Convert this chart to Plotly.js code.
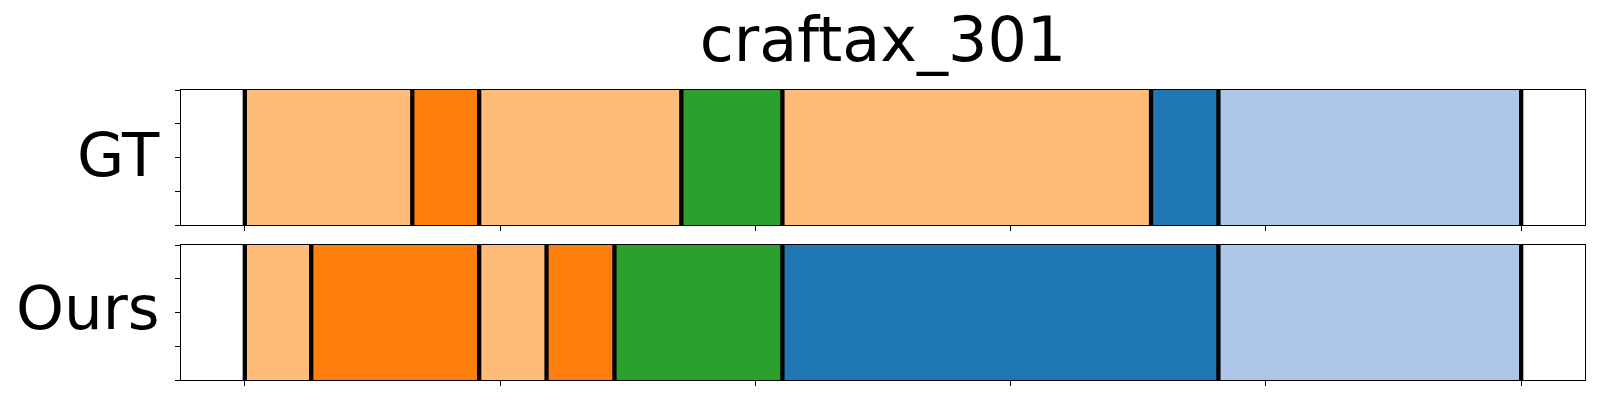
<!DOCTYPE html>
<html>
<head>
<meta charset="utf-8">
<script src="https://cdn.plot.ly/plotly-3.0.1.min.js"></script>
<style>html,body{margin:0;padding:0;background:#fff;}#chart{width:1600px;height:400px;}</style>
</head>
<body>
<div id="chart"></div>
<script>
// ---- data ----
const chartTitle = 'craftax_301';
const rowLabels = ['GT', 'Ours'];
// segment boundaries (frames) for each row
const gtBounds = [0, 32.8, 45.9, 85.5, 105.3, 177.5, 190.7, 250];
const oursBounds = [0, 13.0, 45.9, 59.1, 72.4, 105.3, 190.7, 250];
// class index of each segment
const gtClasses = [3, 2, 3, 4, 3, 0, 1];
const oursClasses = [3, 2, 3, 2, 4, 0, 1];
// class colours (tab20)
const classColors = ['#1f77b4', '#aec7e8', '#ff7f0e', '#ffbb78', '#2ca02c'];
const xTicks = [0, 50, 100, 150, 200, 250];
const yTicks = [0, 0.25, 0.5, 0.75, 1];

// ---- build ----
const rows = [
  {bounds: gtBounds, classes: gtClasses, xa: 'x', ya: 'y'},
  {bounds: oursBounds, classes: oursClasses, xa: 'x2', ya: 'y2'}
];
const traces = [];
const shapes = [];
rows.forEach(r => {
  for (let i = 0; i < r.classes.length; i++) {
    traces.push({
      type: 'bar', orientation: 'h',
      y: [0.5], x: [r.bounds[i + 1] - r.bounds[i]], base: [r.bounds[i]],
      width: 1,
      marker: {color: classColors[r.classes[i]], line: {width: 0}},
      xaxis: r.xa, yaxis: r.ya, showlegend: false, hoverinfo: 'skip'
    });
  }
  r.bounds.forEach(b => {
    shapes.push({type: 'line', xref: r.xa, yref: r.ya, x0: b, x1: b, y0: 0, y1: 1,
      line: {color: 'black', width: 4.3}, layer: 'above'});
  });
});

const xDom = [181 / 1600, 1585 / 1600];
const axX = (anchor) => ({
  domain: xDom, range: [-12.5, 262.5], anchor: anchor,
  tickvals: xTicks, ticks: 'outside', ticklen: 5, tickwidth: 1, tickcolor: 'black',
  showticklabels: false, showgrid: false, zeroline: false,
  showline: true, linecolor: 'black', linewidth: 1, mirror: true, fixedrange: true
});
const axY = (anchor, dom) => ({
  domain: dom, range: [0, 1], anchor: anchor,
  tickvals: yTicks, ticks: 'outside', ticklen: 5, tickwidth: 1, tickcolor: 'black',
  showticklabels: false, showgrid: false, zeroline: false,
  showline: true, linecolor: 'black', linewidth: 1, mirror: true, fixedrange: true
});
const topDom = [175 / 400, 310 / 400];
const botDom = [20 / 400, 155 / 400];

const font = 'DejaVu Sans, sans-serif';
const layout = {
  width: 1600, height: 400,
  margin: {l: 0, r: 0, t: 0, b: 0},
  paper_bgcolor: 'white', plot_bgcolor: 'white',
  barmode: 'overlay', bargap: 0,
  title: {text: chartTitle, font: {family: font, size: 62, color: 'black'},
    x: 883 / 1600, xanchor: 'center', xref: 'paper', y: 1 - 39 / 400, yanchor: 'middle', yref: 'paper'},
  xaxis: axX('y'), yaxis: axY('x', topDom),
  xaxis2: axX('y2'), yaxis2: axY('x2', botDom),
  shapes: shapes,
  annotations: [
    {text: rowLabels[0], xref: 'paper', yref: 'paper', x: 162 / 1600, xanchor: 'right',
     y: 1 - 155 / 400, yanchor: 'middle', showarrow: false, font: {family: font, size: 61, color: 'black'}},
    {text: rowLabels[1], xref: 'paper', yref: 'paper', x: 162 / 1600, xanchor: 'right',
     y: 1 - 307 / 400, yanchor: 'middle', showarrow: false, font: {family: font, size: 61, color: 'black'}}
  ]
};
Plotly.newPlot('chart', traces, layout, {displayModeBar: false, staticPlot: true});
</script>
</body>
</html>
